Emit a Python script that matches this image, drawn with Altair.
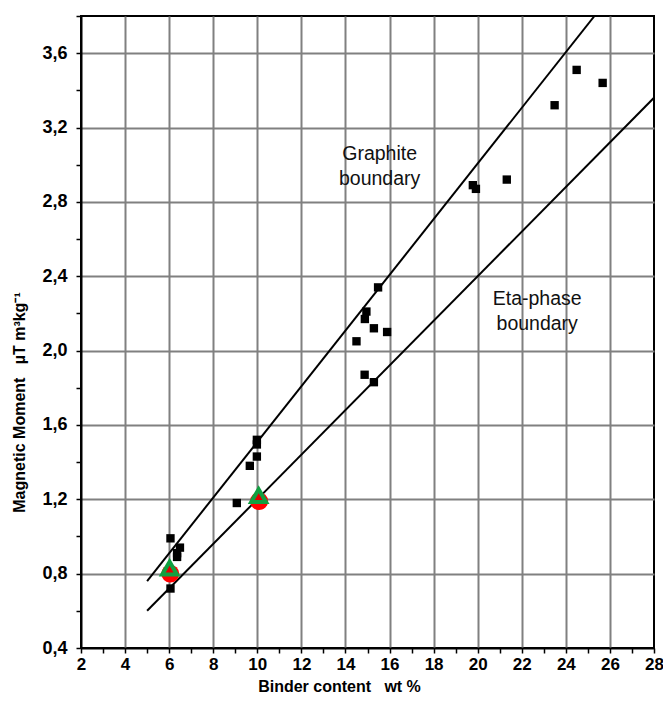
import altair as alt
import pandas as pd

# measured squares
sq_x = [6.06, 6.49, 6.36, 6.36, 6.06, 9.07, 9.66, 9.98, 9.98, 9.98,
        14.50, 14.88, 14.95, 15.29, 15.48, 15.89, 14.87, 15.29,
        19.78, 19.92, 21.32, 23.49, 24.49, 25.67]
sq_y = [0.99, 0.94, 0.91, 0.89, 0.72, 1.18, 1.38, 1.43, 1.495, 1.52,
        2.05, 2.17, 2.21, 2.12, 2.34, 2.10, 1.87, 1.83,
        2.89, 2.87, 2.92, 3.32, 3.51, 3.44]

# reference samples
circ_x = [6.05, 10.08]
circ_y = [0.80, 1.19]
tri_x = [6.02, 10.06]
tri_y = [0.83, 1.22]

# boundary lines (end points)
graph_x = [5.0, 25.3]
graph_y = [0.76, 3.80]
eta_x = [5.0, 28.0]
eta_y = [0.60, 3.36]

# annotations
ann_text = ["Graphite\nboundary", "Eta-phase\nboundary"]
ann_x = [15.55, 22.7]
ann_y = [3.06, 2.28]

FONT = "Liberation Sans"

sq = pd.DataFrame({"x": sq_x, "y": sq_y})
circ = pd.DataFrame({"x": circ_x, "y": circ_y})
tri = pd.DataFrame({"x": tri_x, "y": tri_y})
lines = pd.DataFrame({
    "x": graph_x + eta_x,
    "y": graph_y + eta_y,
    "g": ["Graphite"] * 2 + ["Eta"] * 2,
})
ann = pd.DataFrame({"t": ann_text, "x": ann_x, "y": ann_y})

xscale = alt.Scale(domain=[2, 28], nice=False, zero=False)
yscale = alt.Scale(domain=[0.4, 3.8], nice=False, zero=False)

xaxis = alt.Axis(
    values=list(range(2, 29)),
    labelExpr="datum.value % 2 == 0 ? datum.label : ''",
    title="Binder content\u00a0\u00a0\u00a0wt %",
    titleFont=FONT, titleFontSize=16, titleFontWeight="bold", titleColor="black",
    titleX=258, titleY=30,
    labelFont=FONT, labelFontSize=17, labelFontWeight="bold", labelColor="black",
    labelPadding=3, labelFlush=False, labelBound=False,
    tickColor="black", tickSize=5, tickWidth=1.5,
    domainColor="black", domainWidth=2,
    gridColor="#808080", gridWidth=2,
    gridOpacity={"condition": {"test": "datum.value % 2 == 0 && datum.value > 2 && datum.value < 28", "value": 1}, "value": 0},
    labelOverlap=False,
)
yaxis = alt.Axis(
    values=[round(0.4 + 0.2 * i, 1) for i in range(18)],
    labelExpr="round(datum.value*10) % 4 == 0 ? replace(format(datum.value, '.1f'), '.', ',') : ''",
    title="Magnetic Moment\u00a0\u00a0\u00a0µT m³kg⁻¹",
    titleFont=FONT, titleFontSize=16, titleFontWeight="bold", titleColor="black",
    titleX=-54, titleY=386,
    labelFont=FONT, labelFontSize=18, labelFontWeight="bold", labelColor="black",
    labelPadding=9, labelFlush=False, labelBound=False,
    tickColor="black", tickSize=5, tickWidth=1.5,
    domainColor="black", domainWidth=2,
    gridColor="#808080", gridWidth=2,
    gridOpacity={"condition": {"test": "round(datum.value*10) % 4 == 0 && datum.value > 0.5", "value": 1}, "value": 0},
    labelOverlap=False,
)

X = alt.X("x:Q", scale=xscale, axis=xaxis)
Y = alt.Y("y:Q", scale=yscale, axis=yaxis)

line_layer = alt.Chart(lines).mark_line(color="black", strokeWidth=2, clip=True).encode(
    x=X, y=Y, detail="g:N",
)

base_sq = alt.Chart(sq).mark_square(size=70, color="black", opacity=1).encode(x=X, y=Y)

circ_layer = alt.Chart(circ).mark_circle(size=320, color="#ff0000", opacity=1).encode(x=X, y=Y)

tri_layer = alt.Chart(tri).mark_point(
    shape="triangle-up", size=220, filled=False, fill="#e00000", fillOpacity=1,
    stroke="#10a040", strokeWidth=4, opacity=1,
).encode(x=X, y=Y)

ann_layer = alt.Chart(ann).mark_text(
    font=FONT, fontSize=19.5, color="#111111", lineBreak="\n", align="center",
    baseline="middle", lineHeight=25,
).encode(x=X, y=Y, text="t:N")

chart = alt.layer(line_layer, base_sq, circ_layer, tri_layer, ann_layer).properties(
    width=573, height=632,
    autosize=alt.AutoSizeParams(type="none"),
    padding={"left": 73, "top": 8, "right": 9, "bottom": 46},
    background="white",
).configure_view(stroke="black", strokeWidth=2)

chart.save("out.html", embed_options={"renderer": "svg", "actions": False})
